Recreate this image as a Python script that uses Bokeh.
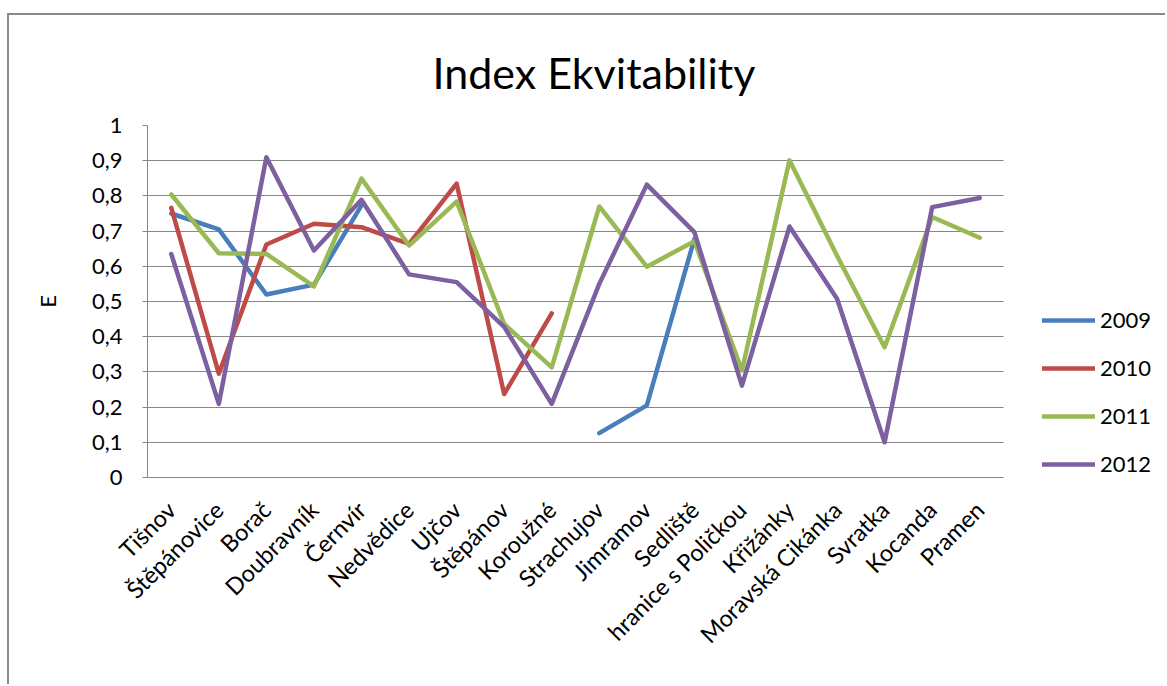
import math

from bokeh.embed import file_html
from bokeh.models import FixedTicker, Legend, LegendItem, Range1d
from bokeh.plotting import figure
from bokeh.resources import INLINE

nan = float("nan")

# Sampling sites along the category axis
sites = [
    "Tišnov", "Štěpánovice", "Borač", "Doubravník", "Černvír", "Nedvědice",
    "Ujčov", "Štěpánov", "Koroužné", "Strachujov", "Jimramov", "Sedliště",
    "hranice s Poličkou", "Křižánky", "Moravská Cikánka", "Svratka",
    "Kocanda", "Pramen",
]

# Equitability index E per year (nan = site not sampled that year)
e_2009 = [0.75, 0.705, 0.52, 0.548, 0.773, nan, nan, nan, nan,
          0.126, 0.205, 0.678, nan, nan, nan, nan, nan, nan]
e_2010 = [0.766, 0.295, 0.662, 0.721, 0.711, 0.664, 0.835, 0.237, 0.466,
          nan, nan, nan, nan, nan, nan, nan, nan, nan]
e_2011 = [0.804, 0.637, 0.635, 0.543, 0.849, 0.659, 0.784, 0.436, 0.313,
          0.770, 0.599, 0.671, 0.304, 0.901, 0.630, 0.370, 0.740, 0.681]
e_2012 = [0.635, 0.209, 0.910, 0.645, 0.789, 0.577, 0.555, 0.428, 0.209,
          0.550, 0.832, 0.697, 0.261, 0.713, 0.508, 0.100, 0.768, 0.794]

years = ["2009", "2010", "2011", "2012"]
series = [e_2009, e_2010, e_2011, e_2012]
colors = ["#4A7EBB", "#BE4B48", "#98B954", "#7D60A0"]

y_ticks = [0.0, 0.1, 0.2, 0.3, 0.4, 0.5, 0.6, 0.7, 0.8, 0.9, 1.0]
y_tick_labels = ["0", "0,1", "0,2", "0,3", "0,4", "0,5", "0,6", "0,7", "0,8", "0,9", "1"]

FONT = "Lato"
TEXT = "#000000"
GRID = "#868686"

n = len(sites)
# each site sits in the middle of its own slot: 0.5, 1.5, ...
x_pos = [i + 0.5 for i in range(n)]
# the plot frame also hosts the legend, so the x range runs past the last slot
X_END = n * 1013 / 856

p = figure(
    x_range=Range1d(0, X_END),
    y_range=Range1d(0, 1),
    width=1158,
    height=671,
    output_backend="svg",
    toolbar_location=None,
    min_border_left=138,
    min_border_right=7,
    min_border_top=110,
    min_border_bottom=209,
    outline_line_color=None,
    title="Index Ekvitability",
)
# chart-area border on the left and top edges
p.styles = {
    "margin-left": "7px",
    "margin-top": "13px",
    "border-left": "2px solid #8a8a8a",
    "border-top": "2px solid #8a8a8a",
}

p.title.align = "left"
p.title.offset = 285
p.title.standoff = 56
p.title.text_font = FONT
p.title.text_font_size = "43px"
p.title.text_font_style = "normal"
p.title.text_color = TEXT

renderers = []
for vals, col in zip(series, colors):
    r = p.line(x_pos, vals, line_color=col, line_width=4.5,
               line_join="round", line_cap="round")
    renderers.append(r)

# y axis
p.yaxis.ticker = FixedTicker(ticks=y_ticks)
p.yaxis.major_label_overrides = {t: s for t, s in zip(y_ticks, y_tick_labels)}
p.yaxis.axis_label = "E"
p.yaxis.axis_label_text_font = FONT
p.yaxis.axis_label_text_font_size = "22px"
p.yaxis.axis_label_text_font_style = "normal"
p.yaxis.axis_label_text_color = TEXT
p.yaxis.axis_label_standoff = 28
p.yaxis.major_label_text_font = FONT
p.yaxis.major_label_text_font_size = "22px"
p.yaxis.major_label_text_color = TEXT
p.yaxis.major_label_standoff = 20
p.yaxis.major_tick_out = 5
p.yaxis.major_tick_in = 0
p.yaxis.minor_tick_out = 0
p.yaxis.minor_tick_in = 0
p.yaxis.axis_line_color = GRID
p.yaxis.major_tick_line_color = GRID

# x axis: one tick per site, labelled with the site name
p.xaxis.ticker = FixedTicker(ticks=x_pos)
p.xaxis.major_label_overrides = {x: s for x, s in zip(x_pos, sites)}
p.xaxis.bounds = (0, n)
p.xaxis.major_label_orientation = math.pi / 4
p.xaxis.major_label_text_font = FONT
p.xaxis.major_label_text_font_size = "23.5px"
p.xaxis.major_label_text_color = TEXT
p.xaxis.major_label_standoff = 28
p.xaxis.major_tick_out = 0
p.xaxis.major_tick_in = 0
p.xaxis.minor_tick_out = 0
p.xaxis.minor_tick_in = 0
p.xaxis.axis_line_color = GRID

p.xgrid.grid_line_color = None
p.ygrid.grid_line_color = GRID
p.ygrid.grid_line_width = 1
ygrid = p.ygrid[0]
if "cross_bounds" in ygrid.properties():
    ygrid.cross_bounds = (0, n)

legend = Legend(
    items=[LegendItem(label=y, renderers=[r]) for y, r in zip(years, renderers)],
    location=(895, 0),
    glyph_width=53,
    glyph_height=20,
    label_height=20,
    spacing=21,
    label_standoff=5,
    padding=0,
    margin=0,
    border_line_color=None,
    background_fill_alpha=0,
    label_text_font=FONT,
    label_text_font_size="22px",
    label_text_color=TEXT,
)
p.add_layout(legend)

open("out.html", "w").write(file_html(p, INLINE))
